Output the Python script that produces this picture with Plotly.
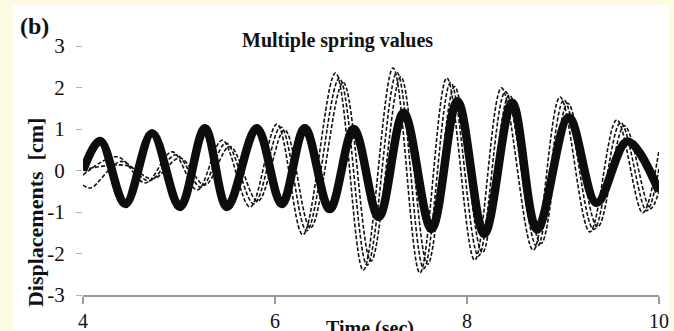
import plotly.graph_objects as go

# ---------------- data ----------------
# thick series (single spring value)
t_thick = [4.00, 4.18, 4.44, 4.72, 5.01, 5.27, 5.50, 5.81, 6.07, 6.31, 6.57, 6.82,
           7.08, 7.34, 7.63, 7.90, 8.18, 8.47, 8.73, 9.06, 9.35, 9.67, 10.0]
v_thick = [0.00, 0.71, -0.81, 0.90, -0.88, 1.02, -0.88, 1.02, -0.81, 1.02, -0.93, 1.00,
           -1.12, 1.39, -1.41, 1.67, -1.53, 1.63, -1.42, 1.28, -0.78, 0.70, -0.50]

# dashed series (other spring values)
t_dash_a = [4.00, 4.36, 4.65, 4.93, 5.19, 5.45, 5.74, 6.02, 6.29, 6.63, 6.92, 7.23,
            7.51, 7.79, 8.08, 8.36, 8.69, 8.97, 9.28, 9.56, 9.83, 10.0]
v_dash_a = [-0.11, 0.33, -0.30, 0.45, -0.47, 0.73, -0.88, 1.12, -1.55, 2.35, -2.40, 2.47,
            -2.47, 2.23, -2.16, 1.99, -1.92, 1.77, -1.48, 1.22, -1.02, 0.49]

t_dash_b = [4.00, 4.08, 4.40, 4.69, 4.97, 5.23, 5.49, 5.78, 6.06, 6.33, 6.67, 6.96,
            7.27, 7.55, 7.83, 8.12, 8.40, 8.73, 9.01, 9.32, 9.60, 9.87, 10.0]
v_dash_b = [-0.35, -0.42, 0.22, -0.25, 0.38, -0.40, 0.66, -0.80, 1.05, -1.45, 2.22, -2.28,
            2.36, -2.36, 2.12, -2.06, 1.90, -1.84, 1.70, -1.42, 1.15, -0.97, 0.05]

t_dash_c = [4.00, 4.45, 4.73, 5.01, 5.27, 5.53, 5.82, 6.10, 6.37, 6.71, 7.00, 7.31,
            7.59, 7.87, 8.16, 8.44, 8.77, 9.05, 9.36, 9.64, 9.91, 10.0]
v_dash_c = [0.02, 0.12, -0.20, 0.30, -0.35, 0.58, -0.74, 0.98, -1.38, 2.12, -2.18, 2.26,
            -2.26, 2.02, -1.98, 1.82, -1.76, 1.62, -1.36, 1.08, -0.92, -0.50]

x_ticks = [4, 6, 8, 10]
y_ticks = [-3, -2, -1, 0, 1, 2, 3]
y_ticktext = ["-3", "-2", "-1", "0", "1", "2", "3"]

SERIF = "Liberation Serif"

fig = go.Figure()

for tx, vy in [(t_dash_c, v_dash_c), (t_dash_b, v_dash_b), (t_dash_a, v_dash_a)]:
    fig.add_trace(go.Scatter(
        x=tx, y=vy, mode="lines",
        line=dict(color="#111111", width=1.6, dash="4px,2px", shape="spline"),
        showlegend=False, hoverinfo="skip"))

fig.add_trace(go.Scatter(
    x=t_thick, y=v_thick, mode="lines",
    line=dict(color="#0d0d0d", width=8.5, shape="spline"),
    showlegend=False, hoverinfo="skip"))

fig.update_layout(
    width=674, height=331,
    margin=dict(l=83, r=15, t=46, b=36, autoexpand=False),
    paper_bgcolor="#fefbe3",
    plot_bgcolor="white",
    showlegend=False,
    shapes=[dict(type="rect", xref="paper", yref="paper",
                 x0=-0.1215, x1=1.0174, y0=-0.2, y1=1.1647,
                 fillcolor="white", line=dict(width=0), layer="below")],
    xaxis=dict(range=[4, 10], tickvals=x_ticks, ticks="outside", ticklen=7,
               tickcolor="#9a9a9a", tickwidth=1.5, showline=True, linecolor="#9a9a9a",
               linewidth=1.5, showgrid=False, zeroline=False, automargin=False,
               tickfont=dict(family=SERIF, size=20, color="#111"),
               ticklabelstandoff=0),
    yaxis=dict(range=[-3, 3], tickvals=y_ticks, ticktext=y_ticktext, ticks="outside",
               ticklen=6, tickcolor="#b0b0b0", tickwidth=1.2, showline=False,
               showgrid=False, zeroline=False, automargin=False,
               tickfont=dict(family=SERIF, size=21, color="#111"),
               ticklabelstandoff=7),
    annotations=[
        dict(text="<b>Multiple spring values</b>", xref="paper", yref="paper",
             x=0.441, y=1.024, xanchor="center", yanchor="middle", showarrow=False,
             font=dict(family=SERIF, size=20, color="#111")),
        dict(text="<b>(b)</b>", xref="paper", yref="paper",
             x=-0.085, y=1.082, xanchor="center", yanchor="middle", showarrow=False,
             font=dict(family=SERIF, size=24, color="#111")),
        dict(text="<b>Displacements  [cm]</b>", xref="paper", yref="paper",
             x=-0.0833, y=0.329, xanchor="center", yanchor="middle", showarrow=False,
             textangle=-90, font=dict(family=SERIF, size=22, color="#111")),
        dict(text="<b>Time (sec)</b>", xref="paper", yref="paper",
             x=0.498, y=-0.082, xanchor="center", yanchor="top", showarrow=False,
             font=dict(family=SERIF, size=20, color="#111")),
    ],
)

fig.write_html("out.html", config={"displayModeBar": False})
